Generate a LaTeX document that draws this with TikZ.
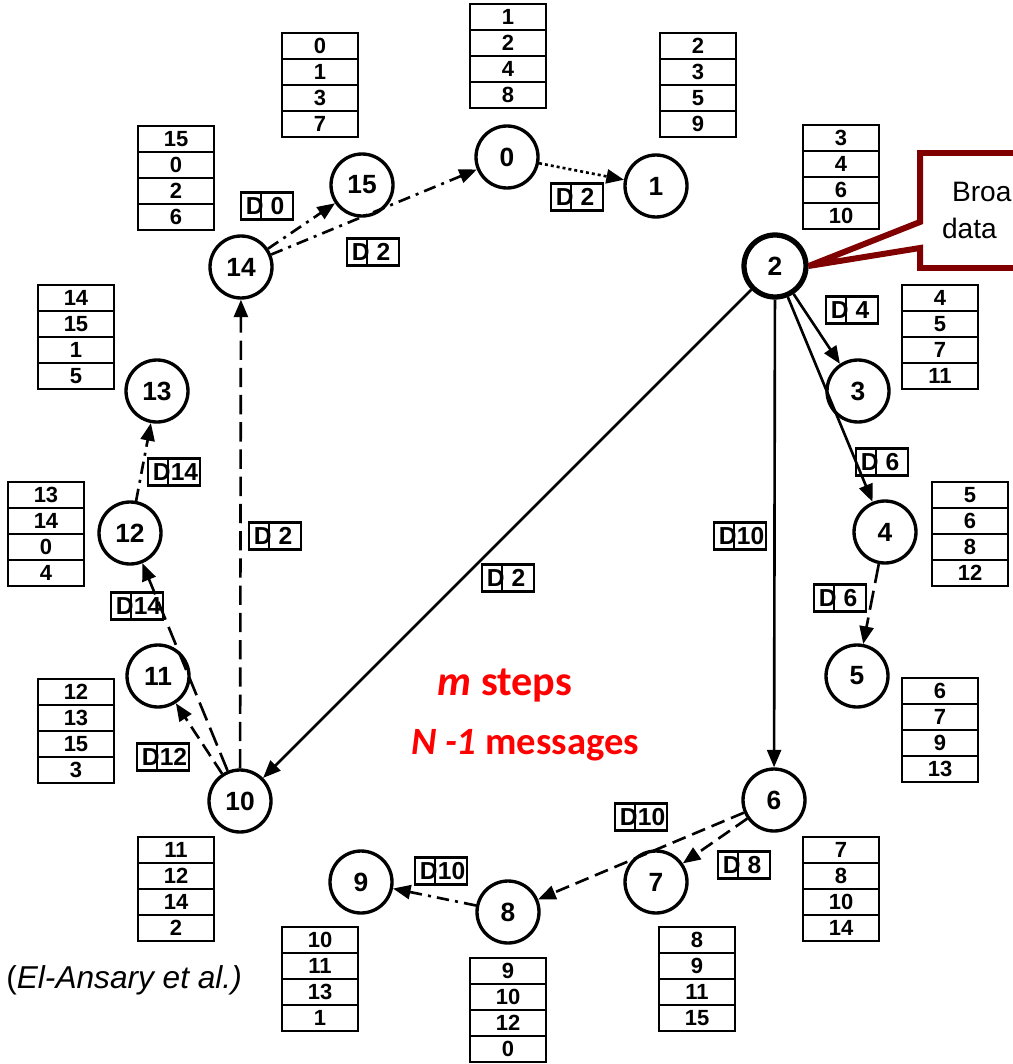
\documentclass[tikz,border=0pt]{standalone}
\usepackage{fontspec}
\setmainfont{Liberation Sans}
\newfontfamily\calibri{Carlito}
\usetikzlibrary{arrows.meta}

\definecolor{calloutred}{RGB}{128,0,0}

\tikzstyle{peer} = [circle, draw, line width=1.9pt, minimum size=1.24cm, inner sep=0pt,
  font=\fontsize{15}{15}\selectfont\bfseries]
\tikzstyle{cell} = [rectangle, draw, line width=1.5pt, minimum width=1.52cm, minimum height=0.52cm,
  inner sep=0pt, font=\fontsize{12.5}{12.5}\selectfont\bfseries]
\tikzstyle{dbox} = [rectangle, draw, line width=1.4pt, minimum width=1.04cm, minimum height=0.54cm,
  inner sep=0pt, outer sep=0pt]
\tikzstyle{dtext} = [inner sep=0pt, font=\fontsize{14}{14}\selectfont\bfseries]
\tikzstyle{msg} = [line width=1.5pt, -{Triangle[length=10pt, width=8pt]}]
\tikzstyle{dotline} = [dash pattern=on 1.7pt off 1.7pt]
\tikzstyle{dashdot} = [dash pattern=on 7pt off 3.5pt on 1.7pt off 3.5pt]
\tikzstyle{dashline} = [dash pattern=on 8pt off 4pt]
\tikzstyle{longdash} = [dash pattern=on 11pt off 4.5pt]

% finger table: name, top-left x, top-left y, four entries
\newcommand{\ftable}[4]{%
  \foreach \v [count=\i] in {#4}
    \node[cell] (#1-\i) at (#2+38, #3+26*\i-13) {\v};
}
% message tag: name, centre, target id
\newcommand{\dtag}[3]{%
  \node[dbox] (#1) at (#2) {};
  \draw[line width=1.4pt] ([xshift=0.4cm]#1.north west) -- ([xshift=0.4cm]#1.south west);
  \node[dtext, anchor=east] at ([xshift=0.46cm]#1.west) {D};
  \node[dtext] at ([xshift=0.73cm]#1.west) {#3};
}

\begin{document}
\begin{tikzpicture}[x=0.02cm, y=-0.02cm]
    \useasboundingbox (0,0) rectangle (1012,1064);

    % Peers on the ring
    \node[peer] (n0)  at (507,157) {0};
    \node[peer] (n1)  at (656,186) {1};
    \node[peer, line width=3pt] (n2) at (775,266) {2};
    \node[peer] (n3)  at (858,391) {3};
    \node[peer] (n4)  at (885,532) {4};
    \node[peer] (n5)  at (857,676) {5};
    \node[peer] (n6)  at (774,800) {6};
    \node[peer] (n7)  at (656,882) {7};
    \node[peer] (n8)  at (508,912) {8};
    \node[peer] (n9)  at (361,882) {9};
    \node[peer] (n10) at (240,801) {10};
    \node[peer] (n11) at (158,676) {11};
    \node[peer] (n12) at (130,533) {12};
    \node[peer] (n13) at (157,391) {13};
    \node[peer] (n14) at (241,267) {14};
    \node[peer] (n15) at (362,185) {15};

    % Finger tables
    \ftable{t0}{470}{4}{1,2,4,8}
    \ftable{t1}{660}{33}{2,3,5,9}
    \ftable{t2}{803}{125}{3,4,6,10}
    \ftable{t3}{902}{285}{4,5,7,11}
    \ftable{t4}{932}{482}{5,6,8,12}
    \ftable{t5}{902}{678}{6,7,9,13}
    \ftable{t6}{803}{837}{7,8,10,14}
    \ftable{t7}{659}{927}{8,9,11,15}
    \ftable{t8}{470}{958}{9,10,12,0}
    \ftable{t9}{282}{927}{10,11,13,1}
    \ftable{t10}{138}{837}{11,12,14,2}
    \ftable{t11}{38}{679}{12,13,15,3}
    \ftable{t12}{8}{482}{13,14,0,4}
    \ftable{t13}{38}{285}{14,15,1,5}
    \ftable{t14}{138}{126}{15,0,2,6}
    \ftable{t15}{282}{33}{0,1,3,7}

    % Broadcast messages
    \draw[msg] (n2) -- (n3);
    \draw[msg] (n2) -- (n4);
    \draw[msg] (n2) -- (n6);
    \draw[msg] (n2) -- (n10);
    \draw[msg, longdash] (n4) -- (n5);
    \draw[msg, dashline] (n6) -- (n7);
    \draw[msg, dashline] (n6) -- (n8);
    \draw[msg, dashdot] (n8) -- (n9);
    \draw[msg, longdash] (n10) -- (n14);
    \draw[msg, dashline] (n10) -- (n11);
    \draw[msg, longdash] (n10) -- (n12);
    \draw[msg, dashdot] (n12) -- (n13);
    \draw[msg, dashdot] (n14) -- (n15);
    \draw[msg, dashdot] (n14) -- (n0);
    \draw[msg, dotline] (n0) -- (n1);

    % Limits carried by each message
    \dtag{d01}{577,197}{2}
    \dtag{d1415}{267,206}{0}
    \dtag{d140}{373,252}{2}
    \dtag{d23}{852,310}{4}
    \dtag{d24}{882,462}{6}
    \dtag{d26}{740,536}{10}
    \dtag{d210}{508,578}{2}
    \dtag{d45}{840,598}{6}
    \dtag{d67}{744,865}{8}
    \dtag{d68}{641,817}{10}
    \dtag{d89}{441,871}{10}
    \dtag{d1014}{275,536}{2}
    \dtag{d1011}{163,757}{12}
    \dtag{d1012}{137,606}{14}
    \dtag{d1213}{174,472}{14}

    % Callout on the source
    \node[anchor=west, minimum width=4.48cm, minimum height=2.3cm, text width=3.6cm,
      inner xsep=0.44cm, outer sep=0pt, align=left,
      font=\fontsize{16}{21.5}\selectfont] (note) at (920,210.5) {\hspace*{0.2cm}Broa\\data};
    \draw[calloutred, line width=3.4pt, miter limit=2]
      (note.north east) -- (note.north west) -- ([yshift=-0.23cm]note.west) -- (n2.east)
      -- ([yshift=-0.75cm]note.west) -- (note.south west) -- (note.south east);

    % Summary
    \node[text=red, font=\calibri\bfseries\fontsize{24}{24}\selectfont] (steps) at (505,686)
      {\textit{m} steps};
    \node[text=red, font=\calibri\bfseries\fontsize{22}{22}\selectfont] (msgs) at (525,745)
      {\textit{N -1} messages};

    \node[anchor=west, inner sep=0pt, font=\fontsize{18}{18}\selectfont] (cite) at (6,980)
      {(\textit{El-Ansary et al.)}};
\end{tikzpicture}
\end{document}
